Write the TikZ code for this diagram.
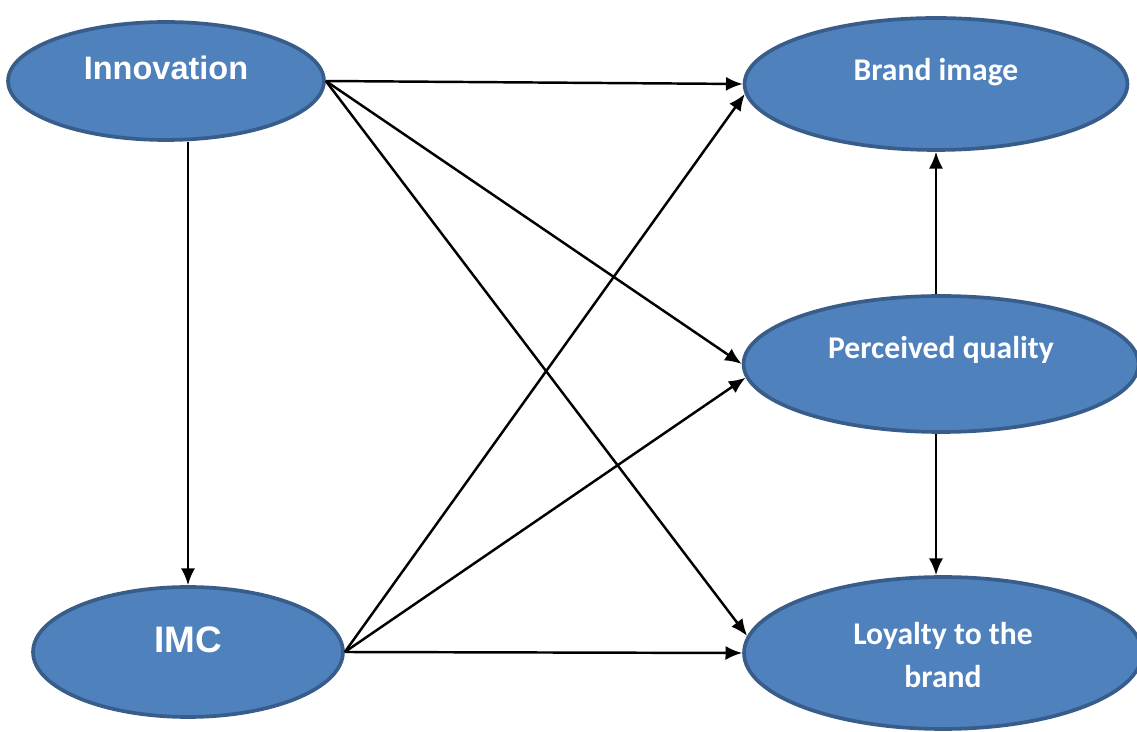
\documentclass[tikz,border=0pt]{standalone}
\usepackage{fontspec}
\setmainfont{Carlito}
\newfontfamily\arialfont{Liberation Sans}
\usetikzlibrary{shapes,arrows.meta}
\definecolor{ovalfill}{RGB}{79,129,189}
\definecolor{ovaldraw}{RGB}{56,93,138}

\begin{document}
\begin{tikzpicture}[x=0.02cm,y=-0.02cm,>={Latex[length=9.5pt,width=8pt]}]
            \tikzset{oval/.style={ellipse,fill=ovalfill,draw=ovaldraw,line width=2.1pt,inner sep=0pt},
                     ovaltext/.style={text=white,font=\bfseries\fontsize{18}{25}\selectfont,align=center},
                     link/.style={->,line width=1.4pt}}
            \useasboundingbox (0,0) rectangle (1137,732);
            % left side
            \node[oval,minimum width=6.32cm,minimum height=2.36cm] (inno) at (166,81) {};
            \node[oval,minimum width=6.2cm,minimum height=2.6cm] (imc) at (188,652) {};
            \node[ovaltext,font=\arialfont\bfseries\fontsize{18.5}{22}\selectfont] (innotext) at (166,68) {Innovation};
            \node[ovaltext,font=\arialfont\bfseries\fontsize{21}{25}\selectfont] (imctext) at (188,640) {IMC};
            % right side
            \node[oval,minimum width=7.66cm,minimum height=2.64cm] (brand) at (936,84) {};
            \node[oval,minimum width=7.9cm,minimum height=2.72cm] (qual) at (941,364) {};
            \node[oval,minimum width=7.96cm,minimum height=3.04cm] (loyal) at (943,653) {};
            \node[ovaltext] (brandtext) at (936,72) {Brand image};
            \node[ovaltext] (qualtext) at (941,350) {Perceived quality};
            \node[ovaltext] (loyaltext) at (943,655) {Loyalty to the\\brand};
            % arrows
            \draw[link] (inno.east) -- (brand.west);
            \draw[link] (inno.east) -- (qual.west);
            \draw[link] (inno.east) -- (loyal.175);
            \draw[link] (inno.south -| imc.north) -- (imc.north);
            \draw[link] (imc.east) -- (brand.183);
            \draw[link] (imc.east) -- (qual.184);
            \draw[link] (imc.east) -- (loyal.west);
            \draw[link] (qual.north -| brand.south) -- (brand.south);
            \draw[link] (qual.south -| brand.south) -- (loyal.north -| brand.south);
\end{tikzpicture}
\end{document}
